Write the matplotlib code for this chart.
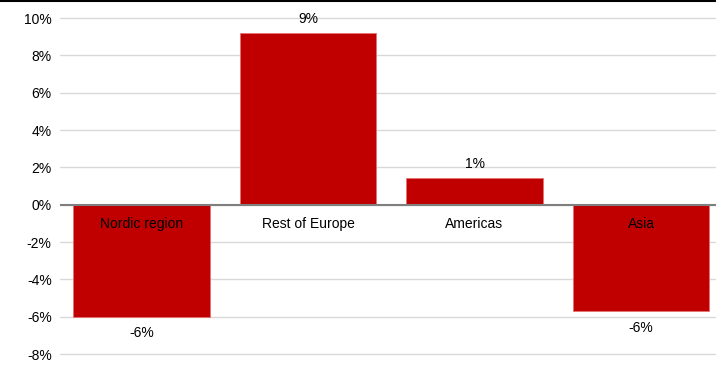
import matplotlib
matplotlib.use("Agg")
import matplotlib.pyplot as plt
from matplotlib.lines import Line2D

categories = ["Nordic region", "Rest of Europe", "Americas", "Asia"]
values = [-6.0, 9.2, 1.45, -5.7]
value_labels = ["-6%", "9%", "1%", "-6%"]
yticks = [-8, -6, -4, -2, 0, 2, 4, 6, 8, 10]
ytick_labels = [f"{t}%" for t in yticks]

plt.rcParams['font.family'] = ['Liberation Sans', 'DejaVu Sans']

fig = plt.figure(figsize=(7.16, 3.65), dpi=100)
W, H = 716, 365
pad = 0.1 * 336 / 18
left, right, top, bottom = 60, 716, 18 - pad, 354 + pad
ax = fig.add_axes([left / W, 1 - bottom / H, (right - left) / W, (bottom - top) / H])

x = list(range(len(categories)))
ax.bar(x, values, width=0.82, color="#c00000", edgecolor="#e57373", linewidth=0.6, zorder=3)

ax.set_ylim(-8.1, 10.1)
ax.set_xlim(-0.489, 3.45)
ax.set_yticks(yticks)
ax.set_yticklabels(ytick_labels, fontsize=10, color="#000000")
ax.tick_params(axis="y", length=0, pad=6)
ax.set_xticks([])
for s in ax.spines.values():
    s.set_visible(False)
ax.grid(axis="y", color="#d9d9d9", linewidth=1, zorder=0)
ax.axhline(0, color="#7f7f7f", linewidth=1.5, zorder=4)

for xi, v, lab, cat in zip(x, values, value_labels, categories):
    if v >= 0:
        ax.annotate(lab, (xi, v), xytext=(0, 5), textcoords="offset points",
                    ha="center", va="bottom", fontsize=10)
    else:
        ax.annotate(lab, (xi, v), xytext=(0, -7), textcoords="offset points",
                    ha="center", va="top", fontsize=10)
    ax.annotate(cat, (xi, 0), xytext=(0, -9), textcoords="offset points",
                ha="center", va="top", fontsize=10, zorder=5)

fig.add_artist(Line2D([0, 1], [1 - 0.5 / H, 1 - 0.5 / H], transform=fig.transFigure,
                      color="black", linewidth=1.5))

fig.savefig("out.png", dpi=100)
